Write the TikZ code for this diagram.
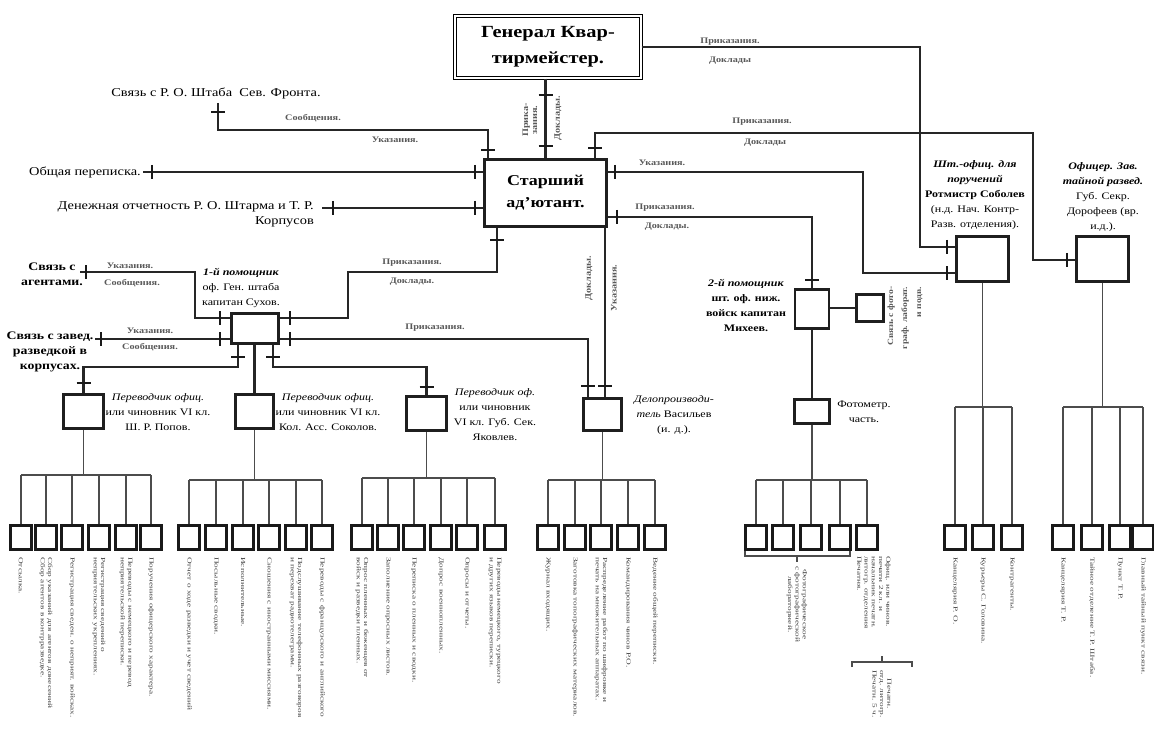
\documentclass[tikz,border=0pt]{standalone}
\usepackage{fontspec}
\setmainfont[FakeStretch=1.2]{Liberation Serif}
\newfontfamily\wideserif[FakeStretch=1.5]{Liberation Serif}
\usetikzlibrary{calc}
\newcommand\htk[2]{\draw[tk] (#1-7,#2) -- (#1+7,#2);}
\newcommand\vtk[2]{\draw[tk] (#1,#2-7) -- (#1,#2+7);}
\begin{document}
\begin{tikzpicture}[x=1pt,y=-1pt,
  conn/.style={draw=black!85,line width=2.3pt},
  bus/.style={draw=black!70,line width=1.8pt},
  tk/.style={draw=black!90,line width=2pt},
  midbox/.style={draw=black!88,line width=2.7pt,fill=white,inner sep=0pt},
  leaf/.style={draw=black!90,line width=2.3pt,fill=white,minimum width=21pt,minimum height=24pt,inner sep=0pt},
  cl/.style={font=\fontsize{8.5}{9}\selectfont\bfseries,inner sep=0pt,text=black!65},
  lft/.style={font=\fontsize{12}{15}\selectfont,inner sep=0pt},
  lftb/.style={font=\fontsize{11.5}{15}\selectfont\bfseries,inner sep=0pt,align=center},
  desc/.style={font=\fontsize{10}{15}\selectfont,inner sep=0pt,align=center},
  descb/.style={font=\fontsize{10}{15}\selectfont\bfseries,inner sep=0pt,align=center},
  bt/.style={rotate=-90,anchor=west,align=left,inner sep=0pt,text=black!75,font=\wideserif\fontsize{6.2}{7.3}\selectfont},
]
\useasboundingbox (0,0) rectangle (1154,738);

% ---------- main boxes
\node[draw=black,line width=1.3pt,double,double distance=1.8pt,minimum width=186pt,minimum height=62pt,
  font=\fontsize{17}{26}\selectfont\bfseries,align=center,inner sep=0pt] (gq) at (548,47) {Генерал Квар-\\тирмейстер.};
\node[midbox,line width=3pt,minimum width=122pt,minimum height=67pt,
  font=\fontsize{15}{22}\selectfont\bfseries,align=center] (sa) at (545.5,193) {Старший\\ад’ютант.};
\node[midbox,minimum width=47pt,minimum height=30pt] (p1) at (255,328.5) {};
\node[midbox,minimum width=34pt,minimum height=39pt] (p2) at (812,309) {};
\node[midbox,minimum width=27pt,minimum height=27pt] (sv) at (870,308) {};
\node[midbox,minimum width=35pt,minimum height=24pt] (foto) at (812,411.5) {};
\node[midbox,minimum width=52pt,minimum height=45pt] (sht) at (982.5,259) {};
\node[midbox,minimum width=52pt,minimum height=45pt] (ofc) at (1102.5,259) {};
\node[midbox,minimum width=40pt,minimum height=34pt] (t1) at (83.5,411.5) {};
\node[midbox,minimum width=38pt,minimum height=34pt] (t2) at (254.5,411.5) {};
\node[midbox,minimum width=40pt,minimum height=34pt] (t3) at (426.5,413.5) {};
\node[midbox,minimum width=38pt,minimum height=32pt] (del) at (602.5,414.5) {};

% ---------- free ends
\coordinate (s4) at (218,103);
\coordinate (s5) at (143,172);
\coordinate (s6) at (322,208);
\coordinate (s11) at (80,272);
\coordinate (s12) at (95,339);

% ---------- connectors
\draw[conn] (sa.north |- gq.south) -- (sa.north);
\htk{545.5}{95}\htk{545.5}{146}
\draw[conn] (gq.east) -- (920,47) -- (920,247) -- (sht.west |- 0,247);
\vtk{947}{247}
\draw[conn] (sa.north -| 595,0) -- (595,133) -- (1033,133) -- (1033,260) -- (ofc.west |- 0,260);
\htk{595}{148}\vtk{1067}{260}
\draw[conn] (s4) -- (218,130) -- (488,130) -- (sa.north -| 488,0);
\htk{218}{112}\htk{488}{150}
\draw[conn] (s5) -- (sa.west |- 0,172);
\vtk{152}{172}\vtk{475}{172}
\draw[conn] (s6) -- (sa.west |- 0,208);
\vtk{333}{208}\vtk{475}{208}
\draw[conn] (sa.south -| 497,0) -- (497,272) -- (348,272) -- (348,318) -- (p1.east |- 0,318);
\htk{497}{240}\vtk{290}{318}
\draw[conn] (sa.east |- 0,172) -- (863,172) -- (863,273) -- (sht.west |- 0,273);
\vtk{615}{172}\vtk{947}{273}
\draw[conn] (sa.east |- 0,217) -- (812,217) -- (p2.north);
\vtk{617}{217}\htk{812}{280}
\draw[conn] (sa.south -| 605,0) -- (del.north -| 605,0);
\htk{605}{386}
\draw[conn] (s11) -- (195,272) -- (195,318) -- (p1.west |- 0,318);
\vtk{86}{272}\vtk{220}{318}
\draw[conn] (s12) -- (p1.west |- 0,339);
\vtk{101}{339}\vtk{220}{339}
\draw[conn] (p1.south -| 238,0) -- (238,367) -- (t1.north |- 0,367) -- (t1.north);
\htk{238}{357}\htk{83.5}{383}
\draw[conn] (t2.north |- p1.south) -- (t2.north);
\draw[conn] (p1.south -| 273,0) -- (273,367) -- (t3.north |- 0,367) -- (t3.north);
\htk{273}{357}\htk{426.5}{387}
\draw[conn] (p1.east |- 0,339) -- (588,339) -- (del.north -| 588,0);
\vtk{290}{339}\htk{588}{386}
\draw[conn] (p2.east |- 0,308) -- (sv.west |- 0,308);
\draw[conn] (p2.south) -- (foto.north);

% ---------- connector labels
\node[cl] (l2a) at (730,42) {Приказания.};
\node[cl] (l2b) at (730,61) {Доклады};
\node[cl] (l3a) at (762,122) {Приказания.};
\node[cl] (l3b) at (765,143) {Доклады};
\node[cl] (l4a) at (313,118) {Сообщения.};
\node[cl] (l4b) at (395,140) {Указания.};
\node[cl,rotate=90,align=center] (l1a) at (530,120) {Прика-\\зания.};
\node[cl,rotate=90] (l1b) at (558,118) {Доклады.};
\node[cl] (l7a) at (412,263) {Приказания.};
\node[cl] (l7b) at (412,282) {Доклады.};
\node[cl] (l8a) at (662,163) {Указания.};
\node[cl] (l9a) at (665,208) {Приказания.};
\node[cl] (l9b) at (667,227) {Доклады.};
\node[cl,rotate=90] (l10a) at (589,278) {Доклады.};
\node[cl,rotate=90] (l10b) at (614,288) {Указания.};
\node[cl] (l11a) at (130,266) {Указания.};
\node[cl] (l11b) at (132,283) {Сообщения.};
\node[cl] (l12a) at (150,331) {Указания.};
\node[cl] (l12b) at (150,347) {Сообщения.};
\node[cl] (l16a) at (435,328) {Приказания.};

% ---------- descriptive texts
\node[lft] (tSev) at (216,93) {Связь с Р. О. Штаба\ \ Сев. Фронта.};
\node[lft,anchor=east] (tObs) at (141,172) {Общая переписка.};
\node[lft,anchor=north east,align=right] (tDen) at (314,201) {Денежная отчетность Р. О. Штарма и Т. Р.\\Корпусов};
\node[lftb] (tAg) at (52,274) {Связь с\\агентами.};
\node[lftb] (tZav) at (50,352) {Связь с завед.\\разведкой в\\корпусах.};
\node[desc] (dP1) at (241,288) {\textbf{\textit{1-й помощник}}\\оф. Ген. штаба\\капитан Сухов.};
\node[desc] (dT1) at (158,412) {\textit{Переводчик офиц.}\\или чиновник VI кл.\\Ш. Р. Попов.};
\node[desc] (dT2) at (328,412) {\textit{Переводчик офиц.}\\или чиновник VI кл.\\Кол. Асс. Соколов.};
\node[desc] (dT3) at (495,415) {\textit{Переводчик оф.}\\или чиновник\\VI кл. Губ. Сек.\\Яковлев.};
\node[desc] (dDel) at (674,415) {\textit{Делопроизводи-}\\\textit{тель} Васильев\\(и. д.).};
\node[descb] (dP2) at (746,305) {\textit{2-й помощник}\\шт. оф. ниж.\\войск капитан\\Михеев.};
\node[cl,rotate=90,align=right,font=\fontsize{8}{14}\selectfont\bfseries] (dSv) at (905,318) {Связь с фото-\\граф. лаборат.\\и подв.};
\node[desc] (dFoto) at (864,412) {Фотометр.\\часть.};
\node[desc] (dSht) at (975,195) {\textbf{\textit{Шт.-офиц. для}}\\\textbf{\textit{поручений}}\\\textbf{Ротмистр Соболев}\\(н.д. Нач. Контр-\\Разв. отделения).};
\node[desc] (dOfc) at (1103,197) {\textbf{\textit{Офицер. Зав.}}\\\textbf{\textit{тайной развед.}}\\Губ. Секр.\\Дорофеев (вр.\\и.д.).};

% ---------- leaf groups
\foreach \x [count=\i] in {21,46,72,99,126,151} {\node[leaf] (ga\i) at (\x,537.5) {};}
\draw[bus] (t1.south) -- (t1.south |- 0,475);
\draw[bus] (ga1.north |- 0,475) -- (ga6.north |- 0,475);
\foreach \i in {1,...,6} {\draw[bus] (ga\i.north |- 0,475) -- (ga\i.north);}

\foreach \x [count=\i] in {189,216,243,269,296,322} {\node[leaf] (gb\i) at (\x,537.5) {};}
\draw[bus] (t2.south) -- (t2.south |- 0,480);
\draw[bus] (gb1.north |- 0,480) -- (gb6.north |- 0,480);
\foreach \i in {1,...,6} {\draw[bus] (gb\i.north |- 0,480) -- (gb\i.north);}

\foreach \x [count=\i] in {362,388,414,441,467,495} {\node[leaf] (gc\i) at (\x,537.5) {};}
\draw[bus] (t3.south) -- (t3.south |- 0,478);
\draw[bus] (gc1.north |- 0,478) -- (gc6.north |- 0,478);
\foreach \i in {1,...,6} {\draw[bus] (gc\i.north |- 0,478) -- (gc\i.north);}

\foreach \x [count=\i] in {548,575,601,628,655} {\node[leaf] (gd\i) at (\x,537.5) {};}
\draw[bus] (del.south) -- (del.south |- 0,480);
\draw[bus] (gd1.north |- 0,480) -- (gd5.north |- 0,480);
\foreach \i in {1,...,5} {\draw[bus] (gd\i.north |- 0,480) -- (gd\i.north);}

\foreach \x [count=\i] in {756,783,811,840,867} {\node[leaf] (gg\i) at (\x,537.5) {};}
\draw[bus] (foto.south) -- (foto.south |- 0,480);
\draw[bus] (gg1.north |- 0,480) -- (gg5.north |- 0,480);
\foreach \i in {1,...,5} {\draw[bus] (gg\i.north |- 0,480) -- (gg\i.north);}

\foreach \x [count=\i] in {955,983,1012} {\node[leaf] (ge\i) at (\x,537.5) {};}
\draw[bus] (sht.south) -- (sht.south |- 0,407);
\draw[bus] (ge1.north |- 0,407) -- (ge3.north |- 0,407);
\foreach \i in {1,...,3} {\draw[bus] (ge\i.north |- 0,407) -- (ge\i.north);}

\foreach \x [count=\i] in {1063,1092,1120,1143} {\node[leaf] (gf\i) at (\x,537.5) {};}
\draw[bus] (ofc.south) -- (ofc.south |- 0,407);
\draw[bus] (gf1.north |- 0,407) -- (gf4.north |- 0,407);
\foreach \i in {1,...,4} {\draw[bus] (gf\i.north |- 0,407) -- (gf\i.north);}

% ---------- leaf texts
\node[bt] (ta1) at (ga1.south |- 0,557) {Отсылка.};
\node[bt] (ta2) at (ga2.south |- 0,557) {Сбор указаний для агентов донесений\\Сбор агентов в контрразведке.};
\node[bt] (ta3) at (ga3.south |- 0,557) {Регистрация сведен. о неприят. войсках.};
\node[bt] (ta4) at (ga4.south |- 0,557) {Регистрация сведений о\\неприятельских укреплениях.};
\node[bt] (ta5) at (ga5.south |- 0,557) {Переводы с немецкого и перевод\\неприятельской переписки.};
\node[bt] (ta6) at (ga6.south |- 0,557) {Поручения офицерского характера.};

\node[bt] (tb1) at (gb1.south |- 0,557) {Отчет о ходе разведки и учет сведений};
\node[bt] (tb2) at (gb2.south |- 0,557) {Посыльные сводки.};
\node[bt] (tb3) at (gb3.south |- 0,557) {Исполнительные.};
\node[bt] (tb4) at (gb4.south |- 0,557) {Сношения с иностранными миссиями.};
\node[bt] (tb5) at (gb5.south |- 0,557) {Подслушивание телефонных разговоров\\и перехват радиотелеграмм.};
\node[bt] (tb6) at (gb6.south |- 0,557) {Переводы с французского и английского};

\node[bt] (tc1) at (gc1.south |- 0,557) {Опрос пленных и беженцев от\\войск и разведки пленных.};
\node[bt] (tc2) at (gc2.south |- 0,557) {Заполнение опросных листов.};
\node[bt] (tc3) at (gc3.south |- 0,557) {Переписка о пленных и сводки.};
\node[bt] (tc4) at (gc4.south |- 0,557) {Допрос военнопленных.};
\node[bt] (tc5) at (gc5.south |- 0,557) {Опросы и отчеты.};
\node[bt] (tc6) at (gc6.south |- 0,557) {Переводы немецкого, турецкого\\и других языков переписки.};

\node[bt] (td1) at (gd1.south |- 0,557) {Журнал входящих.};
\node[bt] (td2) at (gd2.south |- 0,557) {Заготовка топографических материалов.};
\node[bt] (td3) at (gd3.south |- 0,557) {Распределение работ по шифровке и\\печать на множительных аппаратах.};
\node[bt] (td4) at (gd4.south |- 0,557) {Командирования чинов Р.О.};
\node[bt] (td5) at (gd5.south |- 0,557) {Ведение общей переписки.};

\draw[bus,line width=1.2pt] (745,551) -- (745,556) -- (850,556) -- (850,551);
\draw[bus,line width=1.2pt] (797,556) -- (797,562);
\node[bt,align=center] (tg1) at (797,566) {Фотографическое\\с фотографической\\лабораторией.};
\node[bt,anchor=south west] (tg5) at (857,556) {Офиц. или чинов.\\печати 2 кл. и\\начальник печатн.\\литогр. отделения\\Печатня.};
\draw[bus,line width=1.2pt] (852,667) -- (852,662) -- (912,662) -- (912,667);
\draw[bus,line width=1.2pt] (882,662) -- (882,656);
\node[bt,align=center] (tg6) at (882,670) {Печатн.\\отд. литогр.\\Печатн. 5 ч.};

\node[bt] (te1) at (ge1.south |- 0,557) {Канцелярия Р. О.};
\node[bt] (te2) at (ge2.south |- 0,557) {Курьеры С. Головина.};
\node[bt] (te3) at (ge3.south |- 0,557) {Контрагенты.};

\node[bt] (tf1) at (gf1.south |- 0,557) {Канцелярия Т. Р.};
\node[bt] (tf2) at (gf2.south |- 0,557) {Тайное отделение Т. Р. Штаба.};
\node[bt] (tf3) at (gf3.south |- 0,557) {Пункт Т. Р.};
\node[bt] (tf4) at (gf4.south |- 0,557) {Главный тайный пункт связи.};
\end{tikzpicture}
\end{document}
